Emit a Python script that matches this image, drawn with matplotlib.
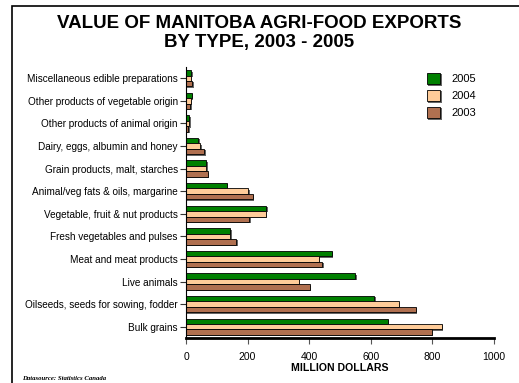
import matplotlib.pyplot as plt
import matplotlib.patheffects as pe
from matplotlib.patches import Rectangle
import numpy as np

plt.rcParams['font.family'] = ['Liberation Sans', 'DejaVu Sans']

categories = ["Bulk grains", "Oilseeds, seeds for sowing, fodder", "Live animals",
              "Meat and meat products", "Fresh vegetables and pulses",
              "Vegetable, fruit & nut products", "Animal/veg fats & oils, margarine",
              "Grain products, malt, starches", "Dairy, eggs, albumin and honey",
              "Other products of animal origin", "Other products of vegetable origin",
              "Miscellaneous edible preparations"]
v2005 = [655, 611, 550, 474, 144, 261, 133, 66, 40, 11, 18, 17]
v2004 = [831, 691, 367, 432, 144, 259, 202, 66, 46, 11, 16, 16]
v2003 = [799, 747, 401, 443, 163, 206, 216, 70, 59, 7, 14, 20]

fig = plt.figure(figsize=(5.19, 3.83), dpi=100)
ax = fig.add_axes([186/519, 1-338/383, 308/519, 271/383])

y = np.arange(len(categories))
h = 0.24
shadow = [pe.SimplePatchShadow(offset=(1, -1), shadow_rgbFace='#555555', alpha=0.9), pe.Normal()]
b1 = ax.barh(y + h, v2005, height=h, color='#008000', edgecolor='black', linewidth=0.6, label='2005')
b2 = ax.barh(y, v2004, height=h, color='#FFCC99', edgecolor='black', linewidth=0.6, label='2004')
b3 = ax.barh(y - h, v2003, height=h, color='#B07050', edgecolor='black', linewidth=0.6, label='2003')
for bars in (b1, b2, b3):
    for b in bars:
        b.set_path_effects(shadow)

ax.set_xlim(0, 1000)
ax.set_ylim(-0.5, len(categories) - 0.5)
ax.set_yticks(y)
ax.set_yticklabels(categories, fontsize=7.2)
ax.set_xticks([0, 200, 400, 600, 800, 1000])
ax.tick_params(axis='x', labelsize=7.5, length=4, color='#555555', direction='out', pad=6)
ax.tick_params(axis='y', length=4, color='#333333', direction='out', pad=2)
ax.spines['top'].set_visible(False)
ax.spines['right'].set_visible(False)
ax.spines['left'].set_linewidth(0.8)
ax.spines['bottom'].set_linewidth(2)
ax.set_xlabel("MILLION DOLLARS", fontsize=7.6, fontweight='bold', labelpad=1)

ax.legend(handles=[b1, b2, b3], loc='upper right', bbox_to_anchor=(0.975, 1.015), frameon=False,
          fontsize=8, handlelength=1.2, handleheight=1.2, labelspacing=0.5, handletextpad=1.0)

fig.text(0.5, 1 - 33/383, "VALUE OF MANITOBA AGRI-FOOD EXPORTS\nBY TYPE, 2003 - 2005",
         ha='center', va='center', fontsize=13.5, fontweight='bold', linespacing=1.2)
fig.text(22/519, 1 - 378/383, "Datasource: Statistics Canada", fontsize=4.9,
         family='Liberation Serif', style='italic', fontweight='bold', va='center')

fig.patches.append(Rectangle((12/519, -0.05), 1.2, 1 - 6/383 + 0.05, transform=fig.transFigure,
                             fill=False, edgecolor='black', linewidth=1.2))

fig.savefig("out.png", dpi=100)
